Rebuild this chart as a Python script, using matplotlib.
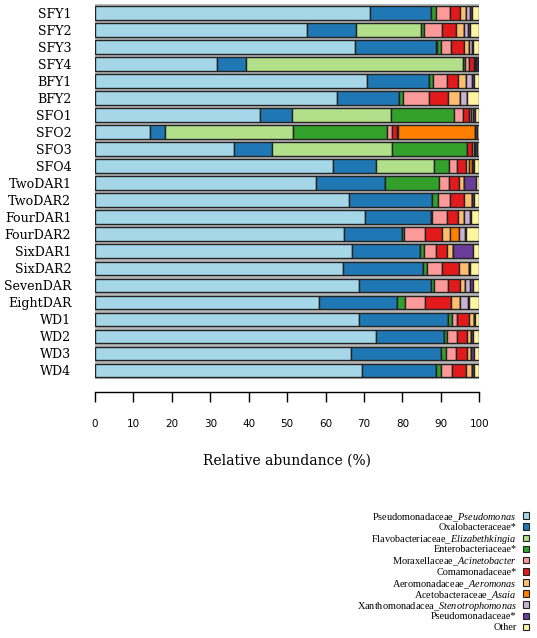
import matplotlib
matplotlib.use('Agg')
import matplotlib.pyplot as plt
from matplotlib.patches import Rectangle
import numpy as np

# === samples (top to bottom) ===
samples = ['SFY1', 'SFY2', 'SFY3', 'SFY4', 'BFY1', 'BFY2', 'SFO1', 'SFO2', 'SFO3', 'SFO4',
           'TwoDAR1', 'TwoDAR2', 'FourDAR1', 'FourDAR2', 'SixDAR1', 'SixDAR2', 'SevenDAR',
           'EightDAR', 'WD1', 'WD2', 'WD3', 'WD4']

taxa = ['Pseudomonadaceae_$\\it{Pseudomonas}$', 'Oxalobacteraceae*',
        'Flavobacteriaceae_$\\it{Elizabethkingia}$', 'Enterobacteriaceae*',
        'Moraxellaceae_$\\it{Acinetobacter}$', 'Comamonadaceae*',
        'Aeromonadaceae_$\\it{Aeromonas}$', 'Acetobacteraceae_$\\it{Asaia}$',
        'Xanthomonadacea_$\\it{Stenotrophomonas}$', 'Pseudomonadaceae*', 'Other']

colors = ['#a6d7e8', '#1f78b4', '#b2df8a', '#33a02c', '#fb9a99', '#e31a1c',
          '#fdbf6f', '#ff7f00', '#cab2d6', '#6a3d9a', '#fff5a0']

# relative abundance (%) per taxon, same order as samples
pseudomonas = [71.6, 55.1, 67.7, 31.7, 70.8, 62.9, 42.9, 14.4, 36.2, 61.8, 57.5, 66.0, 70.3, 64.8, 67.0, 64.6, 68.6, 58.4, 68.6, 73.1, 66.5, 69.5]
oxalo       = [15.8, 12.8, 20.9, 7.7, 16.2, 16.3, 8.4, 3.9, 9.8, 11.3, 18.0, 21.8, 17.0, 15.2, 17.6, 20.8, 18.8, 20.3, 23.2, 17.7, 23.4, 19.2]
elizab      = [0.0, 16.9, 0.3, 56.3, 0.0, 0.0, 25.8, 33.1, 31.2, 15.1, 0.0, 0.0, 0.0, 0.0, 0.0, 0.0, 0.0, 0.0, 0.0, 0.0, 0.0, 0.0]
entero      = [1.2, 0.9, 1.1, 0.6, 1.0, 1.0, 16.4, 24.7, 19.5, 3.9, 13.9, 1.4, 0.4, 0.5, 1.1, 1.1, 0.9, 2.0, 1.0, 0.7, 1.3, 1.2]
acineto     = [3.8, 4.5, 2.6, 1.1, 3.7, 6.8, 2.3, 1.1, 0.2, 2.2, 2.6, 3.2, 3.9, 5.4, 3.0, 3.9, 3.5, 5.2, 1.5, 2.6, 2.7, 3.1]
comamo      = [2.6, 3.7, 3.5, 1.2, 2.8, 4.9, 1.5, 1.4, 1.3, 2.3, 2.8, 3.7, 2.9, 4.3, 3.0, 4.3, 3.3, 6.7, 3.1, 2.6, 3.0, 3.6]
aeromonas   = [1.5, 2.1, 1.2, 0.3, 2.0, 3.0, 0.5, 0.2, 0.5, 0.6, 1.1, 1.9, 1.6, 2.2, 1.5, 2.5, 1.2, 2.3, 1.2, 1.1, 1.0, 1.5]
asaia       = [0.0, 0.0, 0.0, 0.0, 0.0, 0.0, 0.0, 20.0, 0.3, 0.8, 0.0, 0.0, 0.0, 2.2, 0.0, 0.0, 0.0, 0.0, 0.0, 0.0, 0.0, 0.0]
steno       = [1.1, 1.1, 0.7, 0.2, 1.6, 2.0, 0.6, 0.0, 0.0, 0.3, 0.0, 0.0, 1.5, 1.6, 0.0, 0.0, 1.4, 2.2, 0.0, 0.0, 0.0, 0.0]
pseudo_fam  = [0.6, 0.5, 0.3, 0.6, 0.5, 0.0, 0.4, 0.6, 0.3, 0.2, 3.2, 0.6, 0.2, 0.4, 5.2, 0.5, 0.6, 0.3, 0.4, 0.6, 0.6, 0.6]
other       = [1.8, 2.4, 1.7, 0.3, 1.4, 3.1, 1.2, 0.6, 0.7, 1.5, 0.9, 1.4, 2.2, 3.4, 1.6, 2.3, 1.7, 2.6, 1.0, 1.6, 1.5, 1.3]

series = [pseudomonas, oxalo, elizab, entero, acineto, comamo, aeromonas, asaia, steno, pseudo_fam, other]

# === figure ===
plt.rcParams['mathtext.fontset'] = 'custom'
plt.rcParams['mathtext.it'] = 'Liberation Serif:italic'
plt.rcParams['mathtext.rm'] = 'Liberation Serif'

W, H = 537, 638
fig = plt.figure(figsize=(W / 100, H / 100), dpi=100)
ax = fig.add_axes([0.1769, 0.406, 0.7157, 0.587])

y = np.arange(len(samples))
h = 0.8

# grey halo behind each bar
ax.barh(y, 100, height=h, color='none', edgecolor='#b8b8b8', linewidth=3.0, zorder=1)

left = np.zeros(len(samples))
for vals, col in zip(series, colors):
    vals = np.array(vals)
    ax.barh(y, vals, left=left, height=h, color=col, edgecolor='#222222', linewidth=1.0, zorder=2)
    left += vals

ax.set_xlim(0, 100)
ax.set_ylim(len(samples) - 0.5, -0.5)
ax.set_yticks(y)
ax.set_yticklabels(samples, family='DejaVu Serif', fontsize=9.1)
ax.tick_params(axis='y', length=0, pad=17)
ax.set_xticks(np.arange(0, 101, 10))
ax.tick_params(axis='x', length=7, width=1.0, pad=12, direction='out', labelsize=7.5)
for lab in ax.get_xticklabels():
    lab.set_family('DejaVu Serif')
for s in ['left', 'right', 'top']:
    ax.spines[s].set_visible(False)
ax.spines['bottom'].set_position(('outward', 9.5))
ax.spines['bottom'].set_linewidth(1.0)
ax.set_xlabel('Relative abundance (%)', family='DejaVu Serif', fontsize=10, labelpad=18)

# legend drawn by hand (text on the left, key on the right, even row spacing)
top_px, step_px = 515.5, 11.15
text_x, key_x, key_w = 516.5, 522.5, 6.5
for i, (lab, col) in enumerate(zip(taxa, colors)):
    yc = top_px + i * step_px
    fig.text(text_x / W, 1 - yc / H, lab, ha='right', va='center_baseline',
             family='Liberation Serif', fontsize=7.4)
    fig.add_artist(Rectangle((key_x / W, 1 - (yc + key_w / 2) / H), key_w / W, key_w / H,
                             transform=fig.transFigure, facecolor=col,
                             edgecolor='#222222', linewidth=0.8))

fig.savefig('out.png', dpi=100)
